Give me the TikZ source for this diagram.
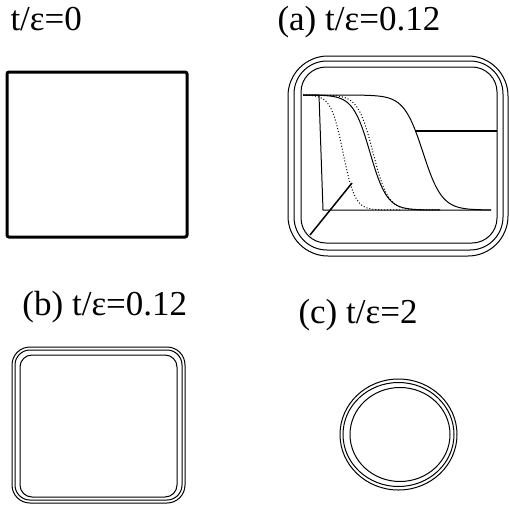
\documentclass[tikz,border=0pt]{standalone}
\usepackage{fontspec}
\setmainfont{Liberation Serif}
\begin{document}
\begin{tikzpicture}[x=1pt,y=-1pt,line width=1pt,
  tlabel/.style={anchor=base west,inner sep=0pt,font=\fontsize{35}{40}\selectfont}]
\useasboundingbox (0,0) rectangle (509,504);
\node [tlabel] (l0) at (10,30) {t/ε=0};
\node [tlabel] (la) at (277,30) {(a) t/ε=0.12};
\node [tlabel] (lb) at (22,315) {(b) t/ε=0.12};
\node [tlabel] (lc) at (298,323) {(c) t/ε=2};
\draw [line width=3pt,rounded corners=2pt] (7,72) rectangle (187,237);
\draw [rounded corners=40pt] (288,56) rectangle (508,256);
\draw [rounded corners=33pt] (294,61) rectangle (503,250);
\draw [rounded corners=25pt] (301,67) rectangle (497,243);
\draw [] (303,95) -- (319,95) -- (323,210) -- (491,210);
\draw [line width=1.5pt] (310,235) -- (352,183);
\draw [line width=1.5pt] (415,131) -- (497,131);
\draw [dotted,domain=303:400,samples=80,smooth] plot (\x,{95+57.5*(1+tanh((\x-343)/12))});
\draw [domain=303:440,samples=80,smooth] plot (\x,{95+57.5*(1+tanh((\x-370)/17))});
\draw [dotted,domain=303:440,samples=80,smooth] plot (\x,{95+57.5*(1+tanh((\x-373)/15))});
\draw [domain=303:491,samples=100,smooth] plot (\x,{95+57.5*(1+tanh((\x-423)/19))});
\draw [rounded corners=18pt] (12,347) rectangle (185,503);
\draw [rounded corners=15pt] (15,350) rectangle (182,500);
\draw [rounded corners=12pt] (20,355) rectangle (177,497);
\draw [] (398.5,434.5) ellipse [x radius=58.5,y radius=55.5];
\draw [] (398.5,434.5) ellipse [x radius=55.5,y radius=52];
\draw [] (400,434.5) ellipse [x radius=50,y radius=47];
\end{tikzpicture}
\end{document}
